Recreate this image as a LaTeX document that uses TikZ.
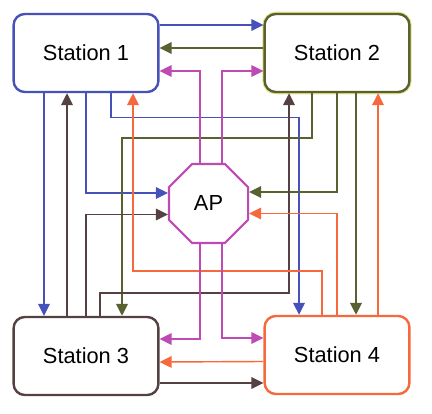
\documentclass[tikz,border=0pt]{standalone}
\usepackage{fontspec}
\setmainfont{Liberation Sans}
\usetikzlibrary{arrows.meta,shapes.geometric}

\definecolor{stblue}{RGB}{70,82,185}
\definecolor{stolive}{RGB}{88,98,48}
\definecolor{stmag}{RGB}{190,75,180}
\definecolor{storange}{RGB}{245,105,60}
\definecolor{stbrown}{RGB}{85,65,65}

\begin{document}
\begin{tikzpicture}[x=0.025cm,y=-0.025cm,>={Triangle[length=3mm,width=2.9mm]},
  st/.style={rectangle,rounded corners=0.28cm,fill=white,minimum width=3.62cm,minimum height=1.95cm,
    line width=1.7pt,font=\fontsize{15.5}{18}\selectfont},
  ap/.style={regular polygon,regular polygon sides=8,fill=white,draw=stmag,line width=1.5pt,
    minimum size=2.14cm,inner sep=0pt,font=\fontsize{15.5}{18}\selectfont},
  ba/.style={->,draw=stblue,line width=1pt},
  oa/.style={->,draw=stolive,line width=1.3pt},
  ma/.style={->,draw=stmag,line width=1pt},
  ra/.style={->,draw=storange,line width=1pt},
  ka/.style={->,draw=stbrown,line width=1pt}]
  \useasboundingbox (0,0) rectangle (432,413);
  % four stations round the access point
  \node[st,draw=stblue] (s1) at (86,53) {Station 1};
  \node[st,draw=stolive,preaction={draw=yellow!45!olive!40,line width=3.2pt}] (s2) at (337,53) {Station 2};
  \node[st,draw=stbrown] (s3) at (86,356) {Station 3};
  \node[st,draw=storange] (s4) at (337,355) {Station 4};
  \node[ap] (ap) at (208.5,203.5) {AP};
  % station 1 outgoing
  \draw[ba] ([shift={(0,-28)}]s1.east) -- ([shift={(0,-28)}]s2.west);
  \draw[ba] ([shift={(-42,0)}]s1.south) -- ([shift={(-42,0)}]s3.north);
  \draw[ba] (s1.south) |- ([shift={(0,-10.5)}]ap.west);
  \draw[ba] ([shift={(25,0)}]s1.south) -- ++(0,24) -| ([shift={(-38,0)}]s4.north);
  % station 2 outgoing
  \draw[oa] ([shift={(0,-5)}]s2.west) -- ([shift={(0,-5)}]s1.east);
  \draw[oa] ([shift={(-25,0)}]s2.south) -- ++(0,45) -| ([shift={(36,0)}]s3.north);
  \draw[oa] (s2.south) |- ([shift={(0,-11.5)}]ap.east);
  \draw[oa] ([shift={(19,0)}]s2.south) -- ([shift={(19,0)}]s4.north);
  % station 3 outgoing
  \draw[ka] ([shift={(-19,0)}]s3.north) -- ([shift={(-19,0)}]s1.south);
  \draw[ka] ([shift={(14,0)}]s3.north) -- ++(0,-23) -| ([shift={(-48,0)}]s2.south);
  \draw[ka] (s3.north) |- ([shift={(0,11)}]ap.west);
  \draw[ka] ([shift={(0,27)}]s3.east) -- ([shift={(0,28)}]s4.west);
  % station 4 outgoing
  \draw[ra] ([shift={(-15,0)}]s4.north) -- ++(0,-44) -| ([shift={(47,0)}]s1.south);
  \draw[ra] ([shift={(41,0)}]s4.north) -- ([shift={(41,0)}]s2.south);
  \draw[ra] (s4.north) |- ([shift={(0,10)}]ap.east);
  \draw[ra] ([shift={(0,6.5)}]s4.west) -- ([shift={(0,6)}]s3.east);
  % access point outgoing
  \draw[ma] ([shift={(-8.5,0)}]ap.north) |- ([shift={(0,18)}]s1.east);
  \draw[ma] ([shift={(13.5,0)}]ap.north) |- ([shift={(0,18)}]s2.west);
  \draw[ma] ([shift={(-8.5,0)}]ap.south) |- ([shift={(0,-17)}]s3.east);
  \draw[ma] ([shift={(13.5,0)}]ap.south) |- ([shift={(0,-17)}]s4.west);
\end{tikzpicture}
\end{document}
